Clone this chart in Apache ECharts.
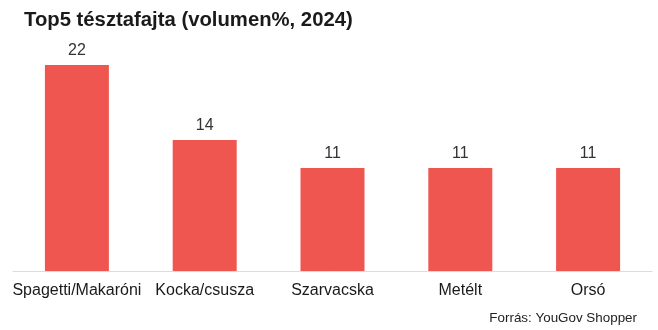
<!DOCTYPE html>
<html>
<head>
<meta charset="utf-8">
<script src="https://cdn.jsdelivr.net/npm/echarts@6/dist/echarts.min.js"></script>
<style>
  html, body { margin: 0; padding: 0; background: #fff; }
  #chart { width: 658px; height: 330px; }
</style>
</head>
<body>
<div id="chart"></div>
<script>
// Pasta types and their volume share (%)
const categories = ['Spagetti/Makaróni', 'Kocka/csusza', 'Szarvacska', 'Metélt', 'Orsó'];
const shares = [22, 14, 11, 11, 11];

const chart = echarts.init(document.getElementById('chart'), null, { renderer: 'canvas' });

chart.setOption({
  animation: false,
  backgroundColor: '#ffffff',
  title: [
    {
      text: 'Top5 tésztafajta (volumen%, 2024)',
      left: 19,
      top: 5,
      textStyle: { fontFamily: 'Liberation Sans, Arial, sans-serif', fontWeight: 'bold', fontSize: 20.3, color: '#1a1a1a' }
    },
    {
      text: 'Forrás: YouGov Shopper',
      right: 16,
      top: 307,
      textStyle: { fontFamily: 'Liberation Sans, Arial, sans-serif', fontWeight: 'normal', fontSize: 13.4, color: '#222' }
    }
  ],
  grid: { left: 13, right: 6, top: 65, bottom: 59, containLabel: false },
  xAxis: {
    type: 'category',
    data: categories,
    axisLine: { lineStyle: { color: '#dcdcdc', width: 1 } },
    axisTick: { show: false },
    axisLabel: {
      margin: 12,
      fontFamily: 'Liberation Sans, Arial, sans-serif',
      fontSize: 16,
      color: '#1a1a1a',
      interval: 0
    }
  },
  yAxis: {
    type: 'value',
    min: 0,
    max: 22,
    show: false,
    splitLine: { show: false }
  },
  series: [{
    type: 'bar',
    data: shares,
    barWidth: 64,
    itemStyle: { color: '#F05650' },
    label: {
      show: true,
      position: 'top',
      distance: 6,
      fontFamily: 'Liberation Sans, Arial, sans-serif',
      fontSize: 16,
      color: '#333'
    }
  }]
});
</script>
</body>
</html>
